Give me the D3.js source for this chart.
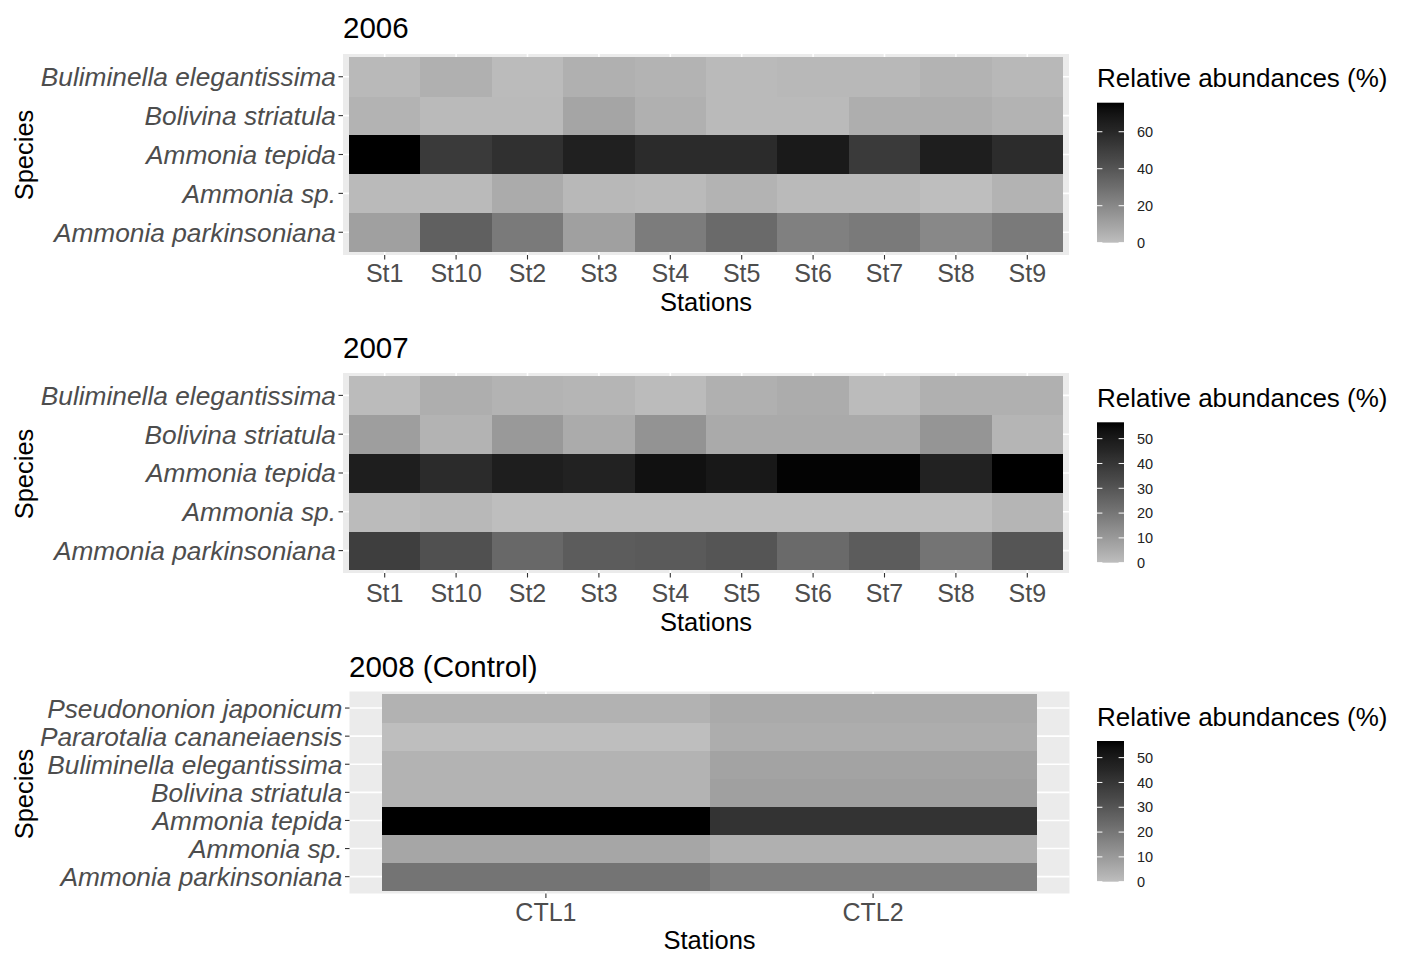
<!DOCTYPE html>
<html>
<head>
<meta charset="utf-8">
<script src="https://cdn.jsdelivr.net/npm/d3@7"></script>
<style>
  html, body { margin: 0; padding: 0; background: #ffffff; }
  svg { display: block; }
  text { font-family: "Liberation Sans", Arial, Helvetica, sans-serif; }
</style>
</head>
<body>
<svg id="chart" width="1402" height="954"></svg>
<script>
// ---------- DATA ----------
const stations = ["St1", "St10", "St2", "St3", "St4", "St5", "St6", "St7", "St8", "St9"];
const controlStations = ["CTL1", "CTL2"];

// bottom-to-top order of species on the y axis
const species = ["Ammonia parkinsoniana", "Ammonia sp.", "Ammonia tepida", "Bolivina striatula", "Buliminella elegantissima"];
const speciesControl = ["Ammonia parkinsoniana", "Ammonia sp.", "Ammonia tepida", "Bolivina striatula", "Buliminella elegantissima", "Pararotalia cananeiaensis", "Pseudononion japonicum"];

// relative abundances (%), rows follow `species`, columns follow `stations`
const abund2006 = [
  [10.9, 35.7, 25.4, 10.9, 24.5, 31.7, 23.0, 25.4, 20.0, 25.4],  // A. parkinsoniana
  [1.3, 1.3, 6.9, 2.2, 1.3, 3.9, 1.3, 1.3, 0.0, 3.9],             // Ammonia sp.
  [75.7, 51.7, 56.2, 63.7, 58.5, 58.5, 66.6, 51.7, 64.6, 58.0],   // A. tepida
  [3.9, 1.3, 1.3, 8.9, 5.1, 1.3, 1.3, 5.8, 5.8, 3.9],             // B. striatula
  [1.8, 5.1, 1.1, 5.1, 3.9, 1.3, 2.2, 2.2, 3.9, 2.2]              // B. elegantissima
];
const abund2007 = [
  [37.3, 31.6, 24.3, 27.9, 28.4, 30.0, 23.7, 27.9, 20.7, 30.0],
  [0.8, 1.6, 0.0, 0.0, 0.0, 0.0, 0.0, 0.0, 0.0, 2.4],
  [48.3, 43.7, 48.3, 46.9, 52.9, 50.5, 55.9, 55.9, 46.9, 56.6],
  [8.8, 2.9, 10.1, 5.1, 11.8, 5.4, 5.4, 5.4, 11.2, 2.4],
  [0.8, 4.3, 2.9, 2.4, 0.8, 3.8, 4.9, 0.8, 3.8, 3.8]
];
// rows follow `speciesControl`, columns follow `controlStations`
const abund2008 = [
  [20.7, 17.8],
  [6.4, 3.8],
  [56.7, 41.0],
  [2.9, 8.2],
  [2.9, 7.4],
  [0.0, 4.6],
  [3.2, 5.4]
];

const panelTitles = ["2006", "2007", "2008 (Control)"];
const xTitle = "Stations";
const yTitle = "Species";
const legendTitle = "Relative abundances (%)";

// ---------- LAYOUT ----------
const layouts = [
  { title: panelTitles[0], xs: stations, ys: species, vals: abund2006,
    titleX: 343, titleBase: 38, bg: [343, 54, 1069, 255], tiles: [349, 57.3, 1063, 251.7],
    xLabBase: 282, xTitleBase: 311, yTitleY: 155, legTitleBase: 87, legBar: [102.7, 242.7] },
  { title: panelTitles[1], xs: stations, ys: species, vals: abund2007,
    titleX: 343, titleBase: 358, bg: [343, 373, 1069, 573], tiles: [349, 376, 1063, 570],
    xLabBase: 602, xTitleBase: 631, yTitleY: 474, legTitleBase: 407, legBar: [422.3, 562.7] },
  { title: panelTitles[2], xs: controlStations, ys: speciesControl, vals: abund2008,
    titleX: 349, titleBase: 677, bg: [349.5, 691.5, 1069.5, 893.5], tiles: [382.3, 694, 1036.7, 890.7],
    xLabBase: 921, xTitleBase: 949, yTitleY: 794, legTitleBase: 726, legBar: [741, 881.7] }
];

const svg = d3.select("#chart");
const axisTextColor = "#4d4d4d";
const tickColor = "#333333";

layouts.forEach((L, pi) => {
  const g = svg.append("g");
  const cells = [];
  L.ys.forEach((sp, r) => L.xs.forEach((st, c) => cells.push({ sp, st, v: L.vals[r][c] })));
  const ext = d3.extent(cells, d => d.v);

  const x = d3.scaleBand().domain(L.xs).range([L.tiles[0], L.tiles[2]]).padding(0);
  const y = d3.scaleBand().domain(L.ys).range([L.tiles[3], L.tiles[1]]).padding(0);
  const color = d3.scaleLinear().domain(ext).range(["#bebebe", "#000000"]).interpolate(d3.interpolateLab);

  // panel background
  g.append("rect")
    .attr("x", L.bg[0]).attr("y", L.bg[1])
    .attr("width", L.bg[2] - L.bg[0]).attr("height", L.bg[3] - L.bg[1])
    .attr("fill", "#ebebeb");

  // grid lines
  g.selectAll("line.gx").data(L.xs).join("line")
    .attr("x1", d => x(d) + x.bandwidth() / 2).attr("x2", d => x(d) + x.bandwidth() / 2)
    .attr("y1", L.bg[1]).attr("y2", L.bg[3])
    .attr("stroke", "#ffffff").attr("stroke-width", 1.6);
  g.selectAll("line.gy").data(L.ys).join("line")
    .attr("y1", d => y(d) + y.bandwidth() / 2).attr("y2", d => y(d) + y.bandwidth() / 2)
    .attr("x1", L.bg[0]).attr("x2", L.bg[2])
    .attr("stroke", "#ffffff").attr("stroke-width", 1.6);

  // tiles
  g.selectAll("rect.tile").data(cells).join("rect")
    .attr("class", "tile")
    .attr("x", d => x(d.st)).attr("y", d => y(d.sp))
    .attr("width", x.bandwidth() + 0.4).attr("height", y.bandwidth() + 0.4)
    .attr("fill", d => color(d.v))
    .attr("shape-rendering", "crispEdges");

  // x axis
  const xAxis = d3.axisBottom(x).tickSize(4.5).tickPadding(3);
  const xg = g.append("g").attr("transform", `translate(0,${L.bg[3]})`).call(xAxis);
  xg.select(".domain").remove();
  xg.selectAll(".tick line").attr("stroke", tickColor).attr("stroke-width", 1.1);
  xg.selectAll(".tick text").remove();
  g.selectAll("text.xl").data(L.xs).join("text")
    .attr("x", d => x(d) + x.bandwidth() / 2).attr("y", L.xLabBase)
    .attr("text-anchor", "middle").attr("font-size", 25).attr("fill", axisTextColor)
    .text(d => d);

  // y axis
  const yAxis = d3.axisLeft(y).tickSize(4.5);
  const yg = g.append("g").attr("transform", `translate(${L.bg[0]},0)`).call(yAxis);
  yg.select(".domain").remove();
  yg.selectAll(".tick line").attr("stroke", tickColor).attr("stroke-width", 1.1);
  yg.selectAll(".tick text").remove();
  g.selectAll("text.yl").data(L.ys).join("text")
    .attr("x", L.bg[0] - 7).attr("y", d => y(d) + y.bandwidth() / 2)
    .attr("dy", "0.36em")
    .attr("text-anchor", "end").attr("font-size", 26.3).attr("font-style", "italic")
    .attr("fill", axisTextColor)
    .text(d => d);

  // titles
  g.append("text").attr("x", L.titleX).attr("y", L.titleBase)
    .attr("font-size", 29.5).attr("fill", "#000").text(L.title);
  g.append("text").attr("x", (L.bg[0] + L.bg[2]) / 2).attr("y", L.xTitleBase)
    .attr("text-anchor", "middle").attr("font-size", 25.5).attr("fill", "#000").text(xTitle);
  g.append("text").attr("transform", `translate(33,${L.yTitleY}) rotate(-90)`)
    .attr("text-anchor", "middle").attr("font-size", 25.5).attr("fill", "#000").text(yTitle);

  // legend
  const lx = 1097, lw = 27;
  g.append("text").attr("x", lx).attr("y", L.legTitleBase)
    .attr("font-size", 26).attr("fill", "#000").text(legendTitle);
  const gradId = "grad" + pi;
  const grad = svg.append("defs").append("linearGradient").attr("id", gradId)
    .attr("x1", 0).attr("y1", 1).attr("x2", 0).attr("y2", 0);
  d3.range(0, 21).forEach(i => {
    const t = i / 20;
    grad.append("stop").attr("offset", t)
      .attr("stop-color", color(ext[0] + t * (ext[1] - ext[0])));
  });
  g.append("rect").attr("x", lx).attr("y", L.legBar[0])
    .attr("width", lw).attr("height", L.legBar[1] - L.legBar[0])
    .attr("fill", `url(#${gradId})`);
  const ly = d3.scaleLinear().domain(ext).range([L.legBar[1], L.legBar[0]]);
  const lticks = ly.ticks(5);
  g.selectAll("line.lt1").data(lticks).join("line")
    .attr("x1", lx).attr("x2", lx + lw / 5)
    .attr("y1", d => ly(d)).attr("y2", d => ly(d))
    .attr("stroke", "#ffffff").attr("stroke-width", 1);
  g.selectAll("line.lt2").data(lticks).join("line")
    .attr("x1", lx + lw - lw / 5).attr("x2", lx + lw)
    .attr("y1", d => ly(d)).attr("y2", d => ly(d))
    .attr("stroke", "#ffffff").attr("stroke-width", 1);
  g.selectAll("text.ll").data(lticks).join("text")
    .attr("x", lx + 40).attr("y", d => ly(d)).attr("dy", "0.36em")
    .attr("font-size", 14.5).attr("fill", "#222")
    .text(d => d);
});
</script>
</body>
</html>
